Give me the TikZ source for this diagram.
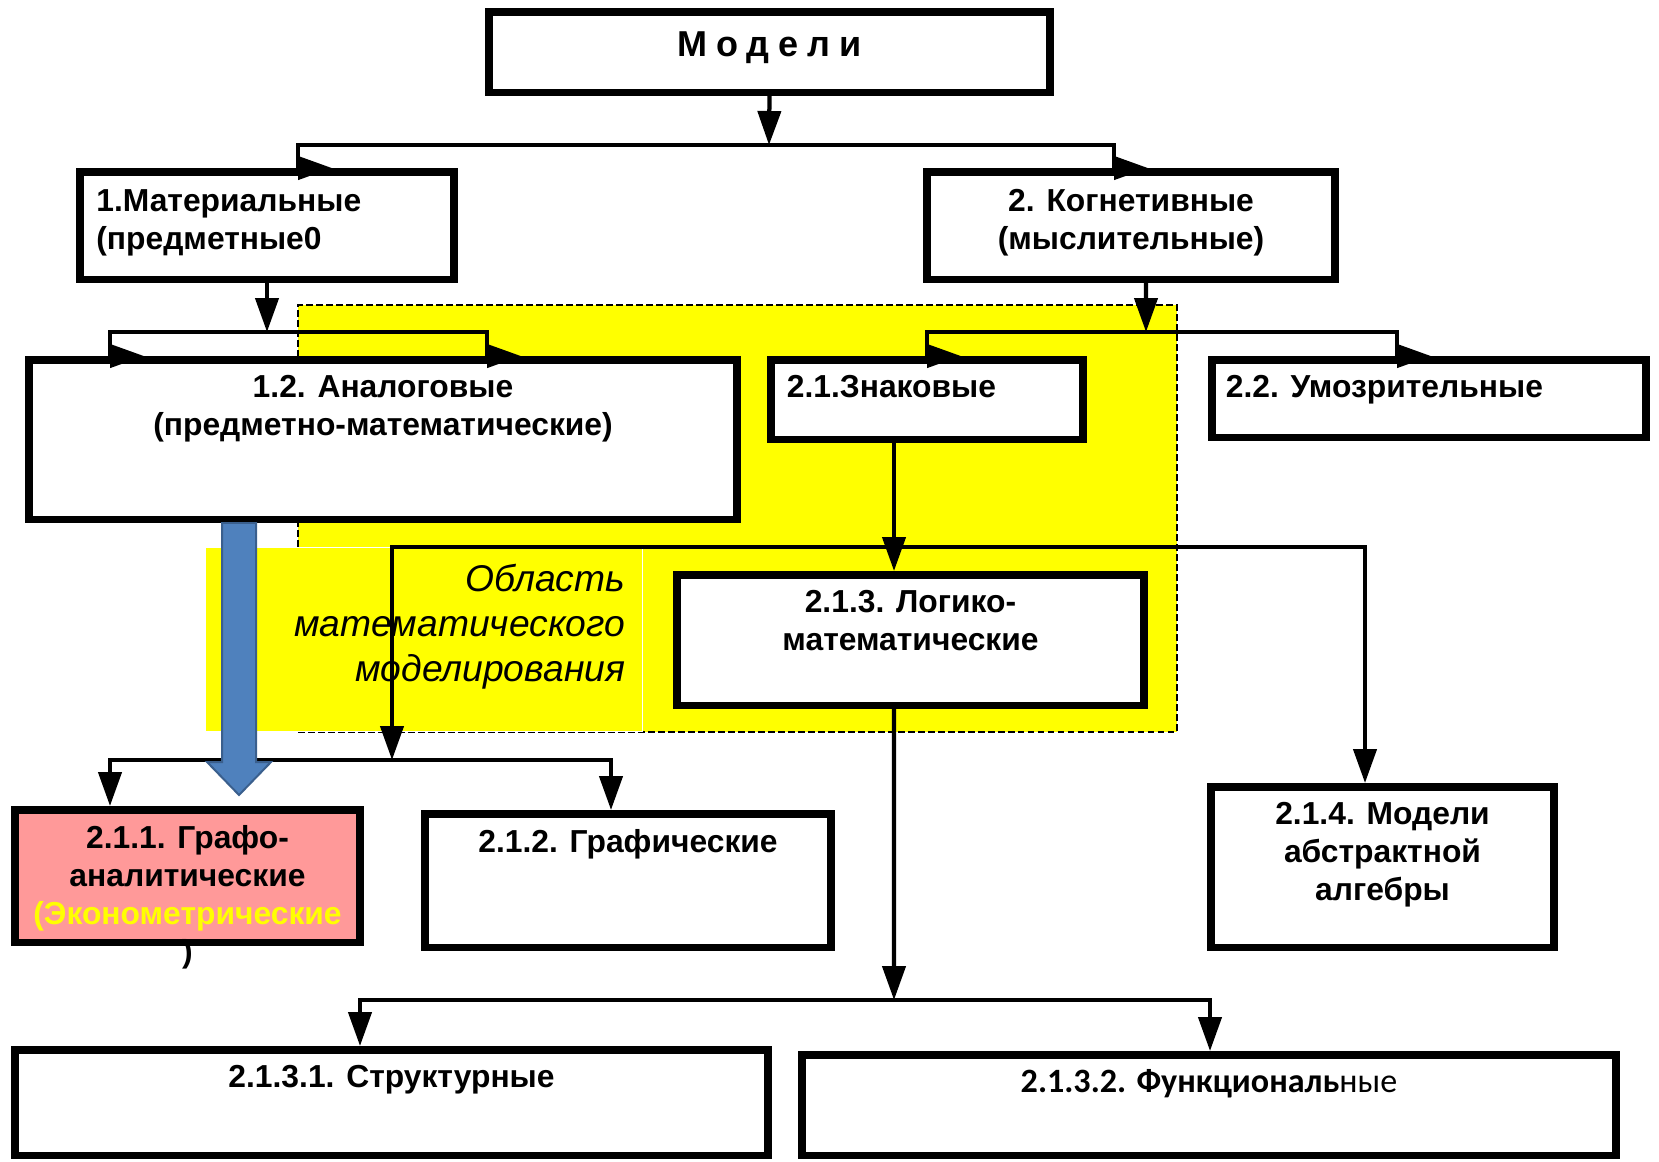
\documentclass[tikz,border=0pt]{standalone}
\usepackage{fontspec}
\setmainfont{Liberation Sans}
\newfontfamily\calibri{Carlito}
\usetikzlibrary{arrows.meta,positioning}

\definecolor{jaune}{HTML}{FFFF00}
\definecolor{rose}{HTML}{FF9999}
\definecolor{bleu}{HTML}{4F81BD}
\definecolor{bleufonce}{HTML}{3A5F8D}

\begin{document}
\begin{tikzpicture}[
      x=0.02cm, y=-0.02cm,
      node distance=0.38cm,
      boite/.style={
        draw,
        line width=0.15cm,
        fill=white,
        inner sep=0pt
      },
      etiq/.style={
        inner sep=0pt,
        align=center,
        font=\bfseries\fontsize{18.1}{21.7}\selectfont
      },
      trait/.style={line width=0.085cm, line cap=rect},
      fleche/.style={trait, -{Triangle[length=0.68cm,width=0.46cm]}},
      zone/.style={
        fill=jaune,
        draw,
        line width=0.04cm,
        dash pattern=on 0.13cm off 0.07cm,
        inner sep=0pt
      }
    ]
    \useasboundingbox (0,0) rectangle (1659,1161);

    % zone jaune
    \node[zone, minimum width=17.58cm, minimum height=8.54cm] (zone) at (737.5,518.5) {};
    \node[fill=jaune, draw=white, line width=0.02cm, inner sep=0pt,
      minimum width=8.76cm, minimum height=3.68cm] (obl) at (424,639) {};
    \node[inner sep=0pt, align=right, font=\itshape\fontsize{21.2}{25.6}\selectfont,
      below left=0.355cm and 0.36cm of obl.north east] (obltxt)
      {Область\\математического\\моделирования};

    % boites
    \node[boite, minimum width=11.23cm, minimum height=1.61cm] (top) at (769.5,52) {};
    \node[boite, minimum width=7.49cm, minimum height=2.15cm] (mat) at (267,225.5) {};
    \node[boite, minimum width=8.17cm, minimum height=2.15cm] (kog) at (1131,225.5) {};
    \node[boite, minimum width=14.17cm, minimum height=3.19cm] (anal) at (383,439.5) {};
    \node[boite, minimum width=6.25cm, minimum height=1.59cm] (znak) at (927,399.5) {};
    \node[boite, minimum width=8.69cm, minimum height=1.55cm] (umoz) at (1429,398.5) {};
    \node[boite, minimum width=9.35cm, minimum height=2.61cm] (logic) at (910.5,640) {};
    \node[boite, fill=rose, minimum width=6.91cm, minimum height=2.65cm] (g1) at (187.5,876) {};
    \node[boite, minimum width=8.13cm, minimum height=2.67cm] (g2) at (628,880.5) {};
    \node[boite, minimum width=6.87cm, minimum height=3.21cm] (alg) at (1382.5,867) {};
    \node[boite, minimum width=15.07cm, minimum height=2.11cm] (str) at (391.5,1102.5) {};
    \node[boite, minimum width=16.29cm, minimum height=2.01cm] (fun) at (1209,1105) {};

    % fleches
    \coordinate (b1) at (769,145);
    \coordinate (b1g) at (298,145);
    \coordinate (b1d) at (1114,145);
    \draw[fleche] (top.south) -- (b1);
    \draw[trait] (b1g) -- (b1d);
    \draw[fleche] (b1g) -- (b1g |- mat.north) -- ++(34,0);
    \draw[fleche] (b1d) -- (b1d |- kog.north) -- ++(34,0);

    \coordinate (b2) at (267,332);
    \coordinate (b2g) at (110,332);
    \coordinate (b2d) at (487,332);
    \draw[fleche] (mat.south) -- (b2);
    \draw[trait] (b2g) -- (b2d);
    \draw[fleche] (b2g) -- (b2g |- anal.north) -- ++(34,0);
    \draw[fleche] (b2d) -- (b2d |- anal.north) -- ++(34,0);

    \node[coordinate, xshift=0.3cm] (kogout) at (kog.south) {};
    \coordinate (b3) at (1146,332);
    \coordinate (b3g) at (927,332);
    \coordinate (b3d) at (1397,332);
    \draw[fleche] (kogout) -- (b3);
    \draw[trait] (b3g) -- (b3d);
    \draw[fleche] (b3g) -- (b3g |- znak.north) -- ++(34,0);
    \draw[fleche] (b3d) -- (b3d |- umoz.north) -- ++(34,0);

    \node[coordinate, xshift=-0.66cm] (znakout) at (znak.south) {};
    \coordinate (b4g) at (392,547);
    \coordinate (b4d) at (1365,547);
    \draw[trait] (b4g) -- (b4d);
    \draw[fleche] (znakout) -- (znakout |- logic.north);
    \draw[fleche] (b4d) -- (b4d |- alg.north);

    \coordinate (b5) at (392,760);
    \coordinate (b5g) at (110,760);
    \coordinate (b5d) at (611,760);
    \draw[fleche] (b4g) -- (b5);
    \draw[trait] (b5g) -- (b5d);
    \draw[fleche] (b5g) -- (b5g |- g1.north);
    \draw[fleche] (b5d) -- (b5d |- g2.north);

    \node[coordinate, xshift=-0.33cm] (logout) at (logic.south) {};
    \coordinate (b6) at (894,1000);
    \coordinate (b6g) at (360,1000);
    \coordinate (b6d) at (1210,1000);
    \draw[fleche] (logout) -- (b6);
    \draw[trait] (b6g) -- (b6d);
    \draw[fleche] (b6g) -- (b6g |- str.north);
    \draw[fleche] (b6d) -- (b6d |- fun.north);

    % textes
    \node[etiq, anchor=base, font=\bfseries\fontsize{20.5}{24}\selectfont\addfontfeature{LetterSpace=25}]
      (toptxt) at ([yshift=-0.08cm]top.center) {Модели};
    \node[etiq, align=left, below right=0.42cm and 0.4cm of mat.north west] (mattxt)
      {1.Материальные\\(предметные0};
    \node[etiq, below=0.42cm of kog.north] (kogtxt) {2. Когнетивные\\(мыслительные)};
    \node[etiq, below=of anal.north] (analtxt) {1.2. Аналоговые\\(предметно-математические)};
    \node[etiq, align=left, below right=0.38cm and 0.39cm of znak.north west] (znaktxt) {2.1.Знаковые};
    \node[etiq, align=left, below right=0.38cm and 0.35cm of umoz.north west] (umoztxt) {2.2. Умозрительные};
    \node[etiq, below=of logic.north] (logictxt) {2.1.3. Логико-\\математические};
    \node[etiq, below=of g1.north] (g1txt)
      {2.1.1. Графо-\\аналитические\\\textcolor{jaune}{(Эконометрические}\\)};
    \node[etiq, below=of g2.north] (g2txt) {2.1.2. Графические};
    \node[etiq, below=of alg.north] (algtxt) {2.1.4. Модели\\абстрактной\\алгебры};
    \node[etiq, below=0.37cm of str.north] (strtxt) {2.1.3.1. Структурные};
    \node[etiq, font=\calibri\fontsize{19.4}{22}\selectfont, below=0.365cm of fun.north] (funtxt)
      {\textbf{2.1.3.2. Функциональ}ные};

    % grosse fleche bleue
    \node[coordinate, xshift=-2.88cm] (bl) at (anal.south) {};
    \draw[fill=bleu, draw=bleufonce, line width=0.04cm] (bl) ++(-17,0) -- ++(34,0) -- ++(0,239)
      -- ++(15,0) -- ++(-32,33) -- ++(-32,-33) -- ++(15,0) -- cycle;

  \end{tikzpicture}
\end{document}
